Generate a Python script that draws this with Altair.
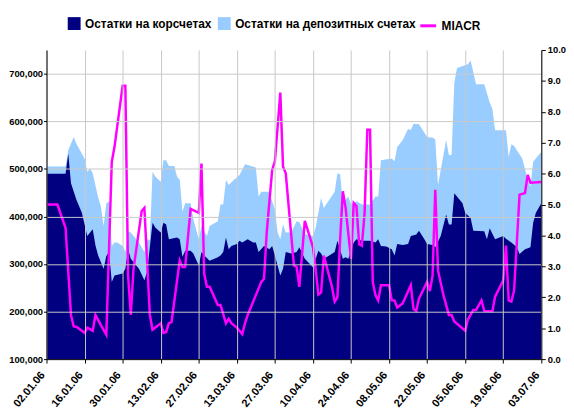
import altair as alt
import pandas as pd

# ---- data ----
series_names = ["Остатки на корсчетах", "Остатки на депозитных счетах", "MIACR"]
series_colors = ["#000080", "#99CCFF", "#FF00FF"]

korsch_dates = [
    "2006-01-02", "2006-01-09", "2006-01-10", "2006-01-11", "2006-01-13", "2006-01-15", "2006-01-17",
    "2006-01-19", "2006-01-20", "2006-01-21", "2006-01-23", "2006-01-24", "2006-01-25", "2006-01-26",
    "2006-01-27", "2006-01-30", "2006-01-31", "2006-02-01", "2006-02-02", "2006-02-05", "2006-02-07",
    "2006-02-08", "2006-02-10", "2006-02-11", "2006-02-13", "2006-02-14", "2006-02-15", "2006-02-16",
    "2006-02-19", "2006-02-20", "2006-02-21", "2006-02-22", "2006-02-24", "2006-02-25", "2006-02-27",
    "2006-02-28", "2006-03-01", "2006-03-03", "2006-03-06", "2006-03-07", "2006-03-08", "2006-03-09",
    "2006-03-10", "2006-03-11", "2006-03-13", "2006-03-14", "2006-03-15", "2006-03-17", "2006-03-19",
    "2006-03-20", "2006-03-21", "2006-03-23", "2006-03-25", "2006-03-26", "2006-03-27", "2006-03-28",
    "2006-03-29", "2006-03-30", "2006-03-31", "2006-04-02", "2006-04-04", "2006-04-05", "2006-04-07",
    "2006-04-10", "2006-04-12", "2006-04-13", "2006-04-14", "2006-04-16", "2006-04-18", "2006-04-19",
    "2006-04-21", "2006-04-22", "2006-04-23", "2006-04-25", "2006-04-26", "2006-04-28", "2006-05-01",
    "2006-05-03", "2006-05-04", "2006-05-05", "2006-05-07", "2006-05-09", "2006-05-10", "2006-05-11",
    "2006-05-13", "2006-05-15", "2006-05-16", "2006-05-18", "2006-05-19", "2006-05-21", "2006-05-22",
    "2006-05-24", "2006-05-25", "2006-05-27", "2006-05-29", "2006-05-30", "2006-05-31", "2006-06-01",
    "2006-06-04", "2006-06-05", "2006-06-07", "2006-06-08", "2006-06-12", "2006-06-13", "2006-06-14",
    "2006-06-16", "2006-06-19", "2006-06-20", "2006-06-22", "2006-06-24", "2006-06-25", "2006-06-27",
    "2006-06-29", "2006-06-30", "2006-07-01", "2006-07-03",
]
korsch = [
    490000, 490000, 532000, 470000, 435000, 408000, 359000,
    373000, 339000, 318000, 290000, 317000, 325000, 262000,
    276000, 280000, 290000, 331000, 311000, 290000, 266000,
    283000, 387000, 377000, 366000, 387000, 383000, 352000,
    356000, 352000, 315000, 328000, 328000, 322000, 297000,
    325000, 318000, 307000, 314000, 318000, 325000, 356000,
    331000, 338000, 342000, 349000, 345000, 352000, 345000,
    345000, 325000, 338000, 331000, 338000, 318000, 297000,
    276000, 290000, 325000, 322000, 325000, 335000, 311000,
    293000, 328000, 322000, 311000, 318000, 325000, 349000,
    311000, 314000, 311000, 345000, 352000, 349000, 349000,
    345000, 352000, 338000, 337000, 331000, 318000, 342000,
    340000, 342000, 359000, 362000, 370000, 352000, 342000,
    340000, 335000, 359000, 404000, 383000, 383000, 449000,
    428000, 408000, 397000, 370000, 369000, 352000, 375000,
    352000, 359000, 353000, 345000, 335000, 321000, 331000,
    335000, 387000, 408000, 428000,
]

# top edge of the light band: корсчета + депозиты
total_dates = [
    "2006-01-02", "2006-01-09", "2006-01-10", "2006-01-12", "2006-01-13", "2006-01-15", "2006-01-16",
    "2006-01-17", "2006-01-18", "2006-01-19", "2006-01-20", "2006-01-21", "2006-01-22", "2006-01-23",
    "2006-01-24", "2006-01-25", "2006-01-26", "2006-01-27", "2006-01-28", "2006-01-30", "2006-01-31",
    "2006-02-01", "2006-02-02", "2006-02-05", "2006-02-07", "2006-02-08", "2006-02-09", "2006-02-10",
    "2006-02-11", "2006-02-13", "2006-02-14", "2006-02-15", "2006-02-16", "2006-02-18", "2006-02-19",
    "2006-02-20", "2006-02-21", "2006-02-22", "2006-02-24", "2006-02-25", "2006-02-27", "2006-02-28",
    "2006-03-02", "2006-03-03", "2006-03-06", "2006-03-07", "2006-03-08", "2006-03-09", "2006-03-10",
    "2006-03-12", "2006-03-14", "2006-03-16", "2006-03-17", "2006-03-20", "2006-03-21", "2006-03-22",
    "2006-03-25", "2006-03-26", "2006-03-27", "2006-03-28", "2006-03-29", "2006-03-30", "2006-03-31",
    "2006-04-02", "2006-04-04", "2006-04-05", "2006-04-07", "2006-04-10", "2006-04-11", "2006-04-13",
    "2006-04-14", "2006-04-16", "2006-04-18", "2006-04-19", "2006-04-20", "2006-04-21", "2006-04-22",
    "2006-04-23", "2006-04-24", "2006-04-26", "2006-04-28", "2006-05-01", "2006-05-03", "2006-05-04",
    "2006-05-05", "2006-05-09", "2006-05-10", "2006-05-11", "2006-05-13", "2006-05-15", "2006-05-16",
    "2006-05-17", "2006-05-19", "2006-05-22", "2006-05-23", "2006-05-24", "2006-05-25", "2006-05-26",
    "2006-05-28", "2006-05-29", "2006-05-30", "2006-05-31", "2006-06-01", "2006-06-02", "2006-06-05",
    "2006-06-06", "2006-06-07", "2006-06-09", "2006-06-12", "2006-06-14", "2006-06-15", "2006-06-16",
    "2006-06-20", "2006-06-21", "2006-06-22", "2006-06-23", "2006-06-26", "2006-06-28", "2006-06-29",
    "2006-06-30", "2006-07-03",
]
total = [
    505000, 505000, 539000, 567000, 553000, 532000, 522000,
    494000, 501000, 491000, 465000, 440000, 421000, 380000,
    428000, 432000, 338000, 345000, 345000, 338000, 325000,
    369000, 366000, 345000, 325000, 352000, 350000, 494000,
    484000, 473000, 518000, 518000, 506000, 506000, 484000,
    477000, 410000, 428000, 428000, 394000, 352000, 380000,
    359000, 380000, 390000, 425000, 425000, 477000, 466000,
    477000, 487000, 510000, 508000, 503000, 442000, 452000,
    452000, 432000, 415000, 366000, 352000, 383000, 366000,
    366000, 390000, 388000, 363000, 359000, 377000, 439000,
    418000, 435000, 452000, 491000, 489000, 428000, 435000,
    442000, 425000, 432000, 425000, 425000, 442000, 442000,
    518000, 522000, 516000, 546000, 560000, 584000, 582000,
    595000, 594000, 567000, 566000, 566000, 562000, 466000,
    529000, 561000, 529000, 529000, 681000, 712000, 718000,
    720000, 728000, 678000, 678000, 640000, 626000, 581000,
    581000, 525000, 552000, 548000, 522000, 477000, 463000,
    515000, 536000,
]

miacr_dates = [
    "2006-01-02", "2006-01-06", "2006-01-09", "2006-01-11", "2006-01-12", "2006-01-13", "2006-01-16",
    "2006-01-17", "2006-01-19", "2006-01-20", "2006-01-22", "2006-01-24", "2006-01-26", "2006-01-27",
    "2006-01-30", "2006-01-31", "2006-02-01", "2006-02-02", "2006-02-03", "2006-02-06", "2006-02-07",
    "2006-02-09", "2006-02-10", "2006-02-13", "2006-02-14", "2006-02-15", "2006-02-16", "2006-02-17",
    "2006-02-20", "2006-02-21", "2006-02-22", "2006-02-24", "2006-02-27", "2006-02-28", "2006-03-01",
    "2006-03-02", "2006-03-03", "2006-03-06", "2006-03-07", "2006-03-09", "2006-03-10", "2006-03-11",
    "2006-03-13", "2006-03-15", "2006-03-16", "2006-03-17", "2006-03-20", "2006-03-22", "2006-03-23",
    "2006-03-24", "2006-03-26", "2006-03-27", "2006-03-29", "2006-03-30", "2006-03-31", "2006-04-03",
    "2006-04-04", "2006-04-05", "2006-04-07", "2006-04-08", "2006-04-10", "2006-04-11", "2006-04-12",
    "2006-04-13", "2006-04-14", "2006-04-17", "2006-04-18", "2006-04-19", "2006-04-20", "2006-04-21",
    "2006-04-22", "2006-04-24", "2006-04-25", "2006-04-26", "2006-04-27", "2006-04-28", "2006-04-29",
    "2006-04-30", "2006-05-01", "2006-05-02", "2006-05-03", "2006-05-04", "2006-05-05", "2006-05-08",
    "2006-05-09", "2006-05-10", "2006-05-11", "2006-05-13", "2006-05-16", "2006-05-17", "2006-05-18",
    "2006-05-19", "2006-05-22", "2006-05-23", "2006-05-24", "2006-05-25", "2006-05-26", "2006-05-28",
    "2006-05-30", "2006-05-31", "2006-06-01", "2006-06-05", "2006-06-06", "2006-06-08", "2006-06-09",
    "2006-06-11", "2006-06-12", "2006-06-15", "2006-06-16", "2006-06-19", "2006-06-20", "2006-06-21",
    "2006-06-22", "2006-06-23", "2006-06-25", "2006-06-27", "2006-06-28", "2006-06-29", "2006-07-03",
]
miacr = [
    5.0, 5.0, 4.25, 1.43, 1.06, 1.05, 0.85,
    1.02, 0.92, 1.43, 1.1, 0.79, 6.38, 6.86,
    8.84, 8.84, 2.71, 1.43, 2.92, 4.79, 4.89,
    1.43, 0.95, 1.16, 0.85, 0.88, 1.16, 1.2,
    3.19, 2.98, 2.98, 4.86, 4.73, 6.33, 2.76,
    2.34, 2.34, 1.75, 1.75, 1.16, 1.3, 1.16,
    1.02, 0.81, 1.16, 1.43, 2.07, 2.5, 2.6,
    4.1, 6.12, 6.4, 8.62, 6.22, 6.01, 3.03,
    2.98, 2.34, 4.47, 4.2, 3.62, 2.9, 2.09,
    2.15, 3.35, 2.34, 1.86, 2.0, 3.88, 5.43,
    4.9, 3.24, 5.05, 4.95, 3.72, 3.67, 4.73,
    7.42, 7.42, 2.5, 2.07, 1.9, 2.39, 2.39,
    1.9, 1.9, 1.67, 1.8, 2.39, 1.62, 1.56,
    1.96, 2.5, 2.2, 2.7, 5.48, 2.87, 2.07,
    1.43, 1.43, 1.22, 0.92, 1.28, 1.59, 1.59,
    1.9, 1.56, 1.55, 2.02, 2.55, 3.67, 1.9,
    1.86, 2.23, 5.32, 5.37, 5.96, 5.71, 5.73,
]

# axis ticks
x_tick_dates = [(2006, 1, 2), (2006, 1, 16), (2006, 1, 30), (2006, 2, 13), (2006, 2, 27),
                (2006, 3, 13), (2006, 3, 27), (2006, 4, 10), (2006, 4, 24), (2006, 5, 8),
                (2006, 5, 22), (2006, 6, 5), (2006, 6, 19), (2006, 7, 3)]
left_ticks = [100000, 200000, 300000, 400000, 500000, 600000, 700000]
left_domain = [100000, 750000]
right_ticks = [0, 1, 2, 3, 4, 5, 6, 7, 8, 9, 10]
right_domain = [0, 10]

# ---- build tables ----
df_total = pd.DataFrame({"date": total_dates, "value": total, "series": series_names[1]})
df_korsch = pd.DataFrame({"date": korsch_dates, "value": korsch, "series": series_names[0]})
df_miacr = pd.DataFrame({"date": miacr_dates, "rate": miacr, "series": series_names[2]})

def dt(t):
    return alt.DateTime(year=t[0], month=t[1], date=t[2], utc=True)

FONT = "Liberation Sans, Arial, sans-serif"

x_enc = alt.X(
    "date:T",
    scale=alt.Scale(type="utc", domain=[dt(x_tick_dates[0]), dt(x_tick_dates[-1])]),
    axis=alt.Axis(
        values=[dt(t) for t in x_tick_dates],
        format="%d.%m.%y",
        labelAngle=-50,
        labelAlign="right",
        labelBaseline="middle",
        labelPadding=10,
        labelOffset=-4,
        labelFontSize=11,
        tickSize=4,
        grid=True,
        title=None,
        zindex=1,
    ),
)

y_left = alt.Y(
    "value:Q",
    scale=alt.Scale(domain=left_domain, nice=False, zero=False),
    axis=alt.Axis(values=left_ticks, format=",d", title=None, orient="left",
                  tickSize=3, labelPadding=1, grid=True, zindex=1, labelFontSize=9.5),
)

fill_enc = alt.Fill(
    "series:N",
    scale=alt.Scale(domain=series_names[:2], range=series_colors[:2]),
    legend=alt.Legend(
        title=None, orient="none", direction="horizontal", legendX=21, legendY=-34,
        symbolType="square", symbolSize=170, symbolStrokeWidth=0,
        labelFont=FONT, labelFontSize=12, labelFontWeight="bold",
        labelOffset=4, columnPadding=6, padding=0, labelLimit=400,
    ),
)

light = alt.Chart(df_total).mark_area(clip=True, opacity=1).encode(x=x_enc, y=y_left, fill=fill_enc)
dark = alt.Chart(df_korsch).mark_area(clip=True, opacity=1).encode(x=x_enc, y=y_left, fill=fill_enc)
areas = alt.layer(light, dark)

line = alt.Chart(df_miacr).mark_line(clip=True, strokeWidth=2.5).encode(
    x=x_enc,
    y=alt.Y(
        "rate:Q",
        scale=alt.Scale(domain=right_domain, nice=False),
        axis=alt.Axis(values=right_ticks, format=".1f", title=None, orient="right",
                      tickSize=4, labelPadding=2, grid=False, zindex=1, labelFontSize=9.5),
    ),
    stroke=alt.Stroke(
        "series:N",
        scale=alt.Scale(domain=[series_names[2]], range=[series_colors[2]]),
        legend=alt.Legend(
            title=None, orient="none", direction="horizontal", legendX=377, legendY=-34,
            symbolType="stroke", symbolSize=256, symbolStrokeWidth=3,
            labelFont=FONT, labelFontSize=12, labelFontWeight="bold",
            labelOffset=4, padding=0,
        ),
    ),
)

chart = (
    alt.layer(areas, line)
    .resolve_scale(y="independent", fill="independent", stroke="independent")
    .properties(
        width=501,
        height=313,
        autosize=alt.AutoSizeParams(type="none"),
        padding={"left": 39, "top": 40, "right": 25, "bottom": 50},
    )
    .configure_view(stroke=None)
    .configure_axis(
        labelFont=FONT, labelFontWeight="bold", labelFontSize=10, labelColor="#000000",
        domainColor="#000000", tickColor="#000000", gridColor="#C8C8C8", gridWidth=1,
    )
    .configure_legend(labelColor="#000000")
)

chart.save("out.html", embed_options={"renderer": "svg", "actions": False})
